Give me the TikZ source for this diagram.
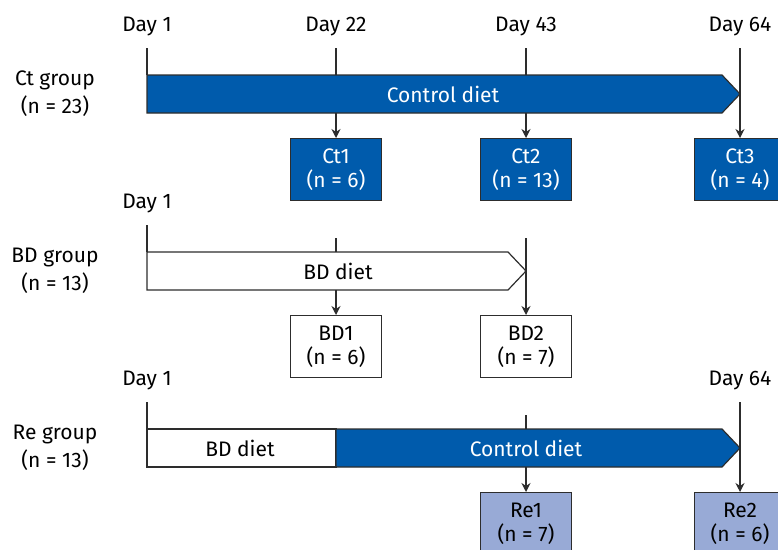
\documentclass[tikz,border=0pt]{standalone}
\usepackage{fontspec}
\setmainfont{Fira Sans}
\usetikzlibrary{arrows.meta}
\definecolor{ctblue}{RGB}{0,91,172}
\definecolor{reblue}{RGB}{152,170,214}
\definecolor{edge}{RGB}{45,45,45}
\tikzset{
  txt/.style={font=\fontsize{21}{24}\selectfont, inner sep=0pt},
  day/.style={txt, anchor=base},
  grp/.style={txt, align=center, font=\fontsize{21}{28}\selectfont},
  smp/.style={txt, draw=edge, line width=1.2pt, minimum width=91pt,
    minimum height=62pt, align=center, anchor=north},
  ctsmp/.style={smp, fill=ctblue, text=white},
  bdsmp/.style={smp, fill=white},
  resmp/.style={smp, fill=reblue},
  tick/.style={draw=edge, line width=1.2pt},
  arr/.style={tick, -{Stealth[length=9pt, width=9pt]}},
  bar/.style={draw=edge, line width=1.2pt}
}

\begin{document}
\begin{tikzpicture}[x=1pt, y=-1pt]
      \useasboundingbox (0,0) rectangle (778,549);
      \clip (0,0) rectangle (778,549);
      % Ct group
      \node[grp] (ctgrp) at (55,94) {Ct group\\(n = 23)};
      \node[day] (ctday1) at (147,31.5) {Day 1};
      \node[day] (ctday22) at (336,31.5) {Day 22};
      \node[day] (ctday43) at (526,31.5) {Day 43};
      \node[day] (ctday64) at (740,31.5) {Day 64};
      \coordinate (ctk1) at (147,48);
      \coordinate (ctk22) at (336,48);
      \coordinate (ctk43) at (526,48);
      \coordinate (ctk64) at (740,48);
      \draw[bar, fill=ctblue] (147,75) coordinate (ctnw) -- (722,75) -- (740,94)
        -- (722,113) -- (147,113) coordinate (ctsw) -- cycle;
      \node[txt, text=white] (ctdiet) at (443,94) {Control diet};
      \node[ctsmp] (ct1) at (336,138) {Ct1\\(n = 6)};
      \node[ctsmp] (ct2) at (526,138) {Ct2\\(n = 13)};
      \node[ctsmp] (ct3) at (740,138) {Ct3\\(n = 4)};
      \draw[tick] (ctk1) -- (ctnw);
      \draw[tick] (ctk22) -- (ctk22 |- ctnw);
      \draw[tick] (ctk43) -- (ctk43 |- ctnw);
      \draw[arr] (ct1.north |- ctsw) -- (ct1);
      \draw[arr] (ct2.north |- ctsw) -- (ct2);
      \draw[arr] (ctk64) -- (ct3);
      % BD group
      \node[grp] (bdgrp) at (55,271) {BD group\\(n = 13)};
      \node[day] (bdday1) at (147,208.5) {Day 1};
      \coordinate (bdk1) at (147,225);
      \coordinate (bdk22) at (336,238);
      \coordinate (bdk43) at (526,238);
      \draw[bar, fill=white] (147,252) coordinate (bdnw) -- (508,252) -- (526,271)
        -- (508,290) -- (147,290) coordinate (bdsw) -- cycle;
      \node[txt] (bddiet) at (338,271) {BD diet};
      \node[bdsmp] (bd1) at (336,315) {BD1\\(n = 6)};
      \node[bdsmp] (bd2) at (526,315) {BD2\\(n = 7)};
      \draw[tick] (bdk1) -- (bdnw);
      \draw[tick] (bdk22) -- (bdk22 |- bdnw);
      \draw[arr] (bd1.north |- bdsw) -- (bd1);
      \draw[arr] (bdk43) -- (bd2);
      % Re group
      \node[grp] (regrp) at (55,448) {Re group\\(n = 13)};
      \node[day] (reday1) at (147,385.5) {Day 1};
      \node[day] (reday64) at (740,385.5) {Day 64};
      \coordinate (rek1) at (147,402);
      \coordinate (rek43) at (526,415);
      \coordinate (rek64) at (740,402);
      \draw[bar, fill=white] (147,429) coordinate (renw) rectangle (336,467);
      \draw[bar, fill=ctblue] (336,429) -- (722,429) -- (740,448)
        -- (722,467) -- (336,467) coordinate (resw) -- cycle;
      \node[txt] (rebd) at (240,448) {BD diet};
      \node[txt, text=white] (rect) at (526,448) {Control diet};
      \node[resmp] (re1) at (526,492) {Re1\\(n = 7)};
      \node[resmp] (re2) at (740,492) {Re2\\(n = 6)};
      \draw[tick] (rek1) -- (renw);
      \draw[tick] (rek43) -- (rek43 |- renw);
      \draw[arr] (re1.north |- resw) -- (re1);
      \draw[arr] (rek64) -- (re2);
\end{tikzpicture}
\end{document}
